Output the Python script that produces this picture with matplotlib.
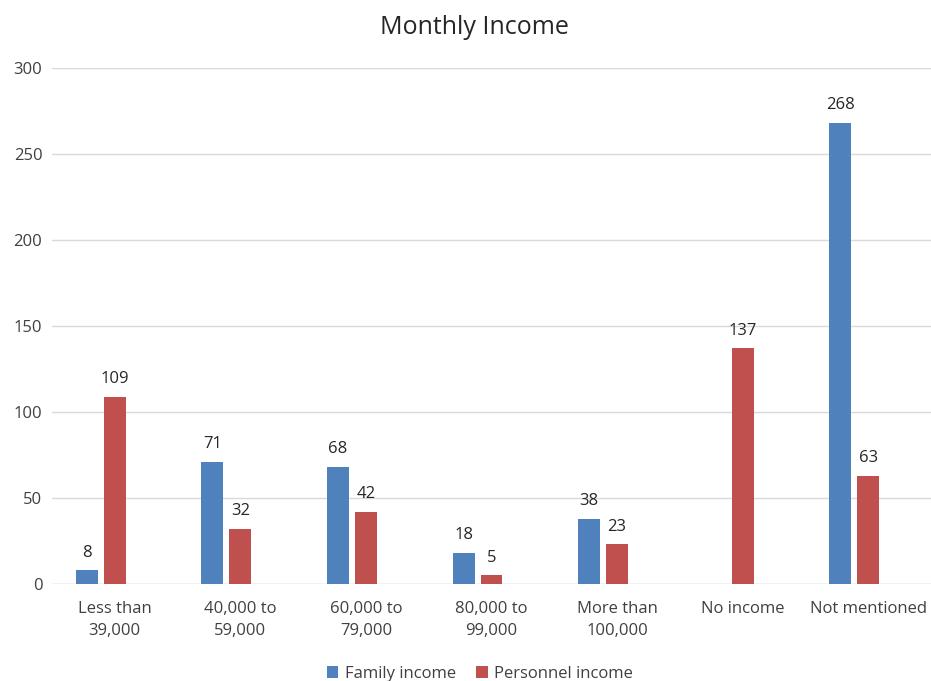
import numpy as np
import matplotlib
matplotlib.use("Agg")
import matplotlib.pyplot as plt

plt.rcParams['font.family'] = ['Open Sans', 'DejaVu Sans']

categories = ["Less than\n39,000", "40,000 to\n59,000", "60,000 to\n79,000",
              "80,000 to\n99,000", "More than\n100,000", "No income", "Not mentioned"]
family_income = [8, 71, 68, 18, 38, np.nan, 268]
personnel_income = [109, 32, 42, 5, 23, 137, 63]

blue = "#4F81BD"
red = "#C0504D"

fig = plt.figure(figsize=(9.31, 6.81), dpi=100)
ax = fig.add_axes([52/931, 97/681, 879/931, 516/681])

x = np.arange(len(categories))
w = 0.175
b1 = ax.bar(x - 0.222, family_income, w, color=blue, label="Family income", zorder=3)
b2 = ax.bar(x, personnel_income, w, color=red, label="Personnel income", zorder=3)

for bars, vals in ((b1, family_income), (b2, personnel_income)):
    for rect, v in zip(bars, vals):
        if np.isnan(v):
            continue
        ax.annotate(f"{int(v)}", (rect.get_x() + rect.get_width()/2, v),
                    xytext=(0, 7), textcoords="offset points",
                    ha="center", va="bottom", fontsize=12, color="#262626")

ax.set_xlim(-0.5, 6.5)
ax.set_ylim(0, 300)
ax.set_yticks(np.arange(0, 301, 50))
ax.yaxis.grid(True, color="#d9d9d9", linewidth=1, zorder=0)
ax.set_axisbelow(True)
for s in ax.spines.values():
    s.set_visible(False)
ax.tick_params(axis="both", length=0, labelsize=12, colors="#404040")
ax.tick_params(axis="y", pad=7)
ax.tick_params(axis="x", pad=12)
ax.set_xticks(x)
ax.set_xticklabels(categories, linespacing=1.5)
ax.axhline(0, color="#d9d9d9", linewidth=1, zorder=1)

fig.text(474/931, 1 - 27/681, "Monthly Income", ha="center", va="center",
         fontsize=18, color="#262626")

fig.legend(handles=[b1, b2], loc="center", bbox_to_anchor=(480/931, 1 - 674/681),
           ncol=2, frameon=False, fontsize=12, handlelength=0.7, handleheight=0.7,
           handletextpad=0.4, columnspacing=1.2, labelcolor="#404040")

fig.savefig("out.png", dpi=100)
